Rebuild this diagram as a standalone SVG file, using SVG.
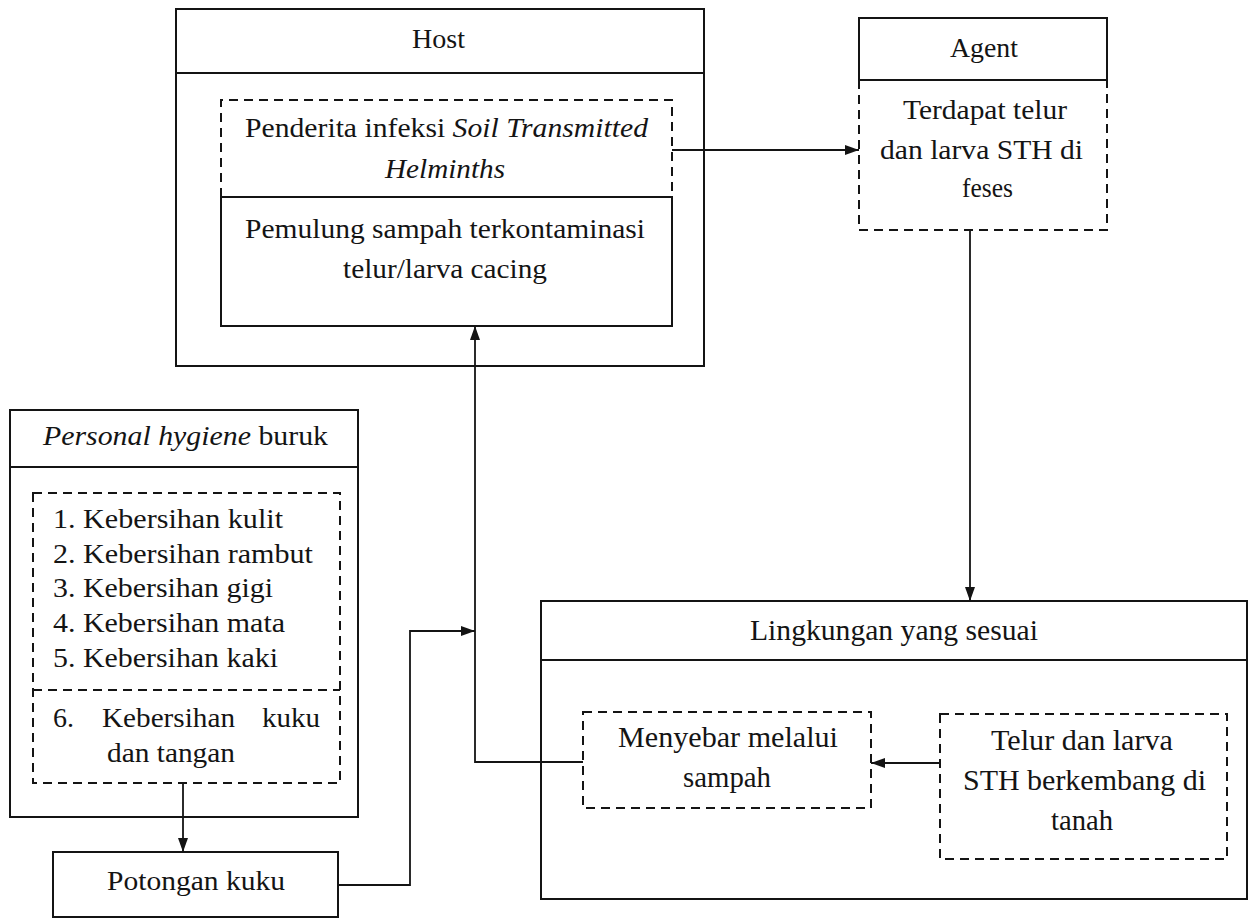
<svg xmlns="http://www.w3.org/2000/svg" width="1252" height="919" viewBox="0 0 1252 919">
<defs>
<style>
.b{fill:none;stroke:#141414;stroke-width:2}
.d{fill:none;stroke:#141414;stroke-width:2;stroke-dasharray:9,6}
.c{fill:none;stroke:#141414;stroke-width:1.8}
.t{fill:#141414}
.l{font-size:30px}
</style>
<marker id="ah" viewBox="0 0 14 10" refX="14" refY="5" markerWidth="14" markerHeight="10" markerUnits="userSpaceOnUse" orient="auto">
<path d="M0,0 L14,5 L0,10 Z" fill="#141414"/>
</marker>
</defs>
<rect width="1252" height="919" fill="#ffffff"/>
<g font-family="Liberation Serif, Times New Roman, serif" font-size="28">

<g id="host">
<rect class="b" x="176" y="9" width="528" height="357"/>
<line class="b" x1="176" y1="73" x2="704" y2="73"/>
<text class="t" x="412" y="48" textLength="53" lengthAdjust="spacingAndGlyphs">Host</text>
<path class="d" d="M221,197 V100 H672 V197"/>
<text class="t" x="245" y="137" textLength="403" lengthAdjust="spacingAndGlyphs">Penderita infeksi <tspan font-style="italic">Soil Transmitted</tspan></text>
<text class="t" x="385" y="178" font-style="italic" textLength="120" lengthAdjust="spacingAndGlyphs">Helminths</text>
<rect class="b" x="221" y="197" width="451" height="129"/>
<text class="t" x="245" y="238" textLength="400" lengthAdjust="spacingAndGlyphs">Pemulung sampah terkontaminasi</text>
<text class="t" x="343" y="278" textLength="204" lengthAdjust="spacingAndGlyphs">telur/larva cacing</text>
</g>

<g id="agent">
<rect class="b" x="859" y="18" width="248" height="62"/>
<text class="t" x="950" y="57" textLength="68" lengthAdjust="spacingAndGlyphs">Agent</text>
<path class="d" d="M859,80 V230 H1107 V80"/>
<text class="t" x="903" y="119" textLength="164" lengthAdjust="spacingAndGlyphs">Terdapat telur</text>
<text class="t" x="880" y="159" textLength="203" lengthAdjust="spacingAndGlyphs">dan larva STH di</text>
<text class="t" x="962" y="197" textLength="51" lengthAdjust="spacingAndGlyphs">feses</text>
</g>

<g id="lingkungan">
<rect class="b" x="541" y="601" width="706" height="298"/>
<line class="b" x1="541" y1="660" x2="1247" y2="660"/>
<text class="t l" x="750" y="640" textLength="288" lengthAdjust="spacingAndGlyphs">Lingkungan yang sesuai</text>
</g>

<g id="menyebar">
<rect class="d" x="583" y="712" width="288" height="96"/>
<text class="t l" x="618" y="747" textLength="220" lengthAdjust="spacingAndGlyphs">Menyebar melalui</text>
<text class="t l" x="683" y="787" textLength="88" lengthAdjust="spacingAndGlyphs">sampah</text>
</g>

<g id="telur">
<rect class="d" x="940" y="714" width="287" height="145"/>
<text class="t l" x="991" y="750" textLength="182" lengthAdjust="spacingAndGlyphs">Telur dan larva</text>
<text class="t l" x="963" y="790" textLength="243" lengthAdjust="spacingAndGlyphs">STH berkembang di</text>
<text class="t l" x="1051" y="830" textLength="62" lengthAdjust="spacingAndGlyphs">tanah</text>
</g>

<g id="personal-hygiene">
<rect class="b" x="10" y="410" width="348" height="407"/>
<line class="b" x1="10" y1="467" x2="358" y2="467"/>
<text class="t" x="43" y="445" textLength="285" lengthAdjust="spacingAndGlyphs"><tspan font-style="italic">Personal hygiene</tspan> buruk</text>
<rect class="d" x="33" y="493" width="307" height="290"/>
<line class="d" x1="33" y1="690" x2="340" y2="690"/>
<text class="t" x="53" y="528" textLength="230" lengthAdjust="spacingAndGlyphs">1. Kebersihan kulit</text>
<text class="t" x="53" y="563" textLength="260" lengthAdjust="spacingAndGlyphs">2. Kebersihan rambut</text>
<text class="t" x="53" y="597" textLength="220" lengthAdjust="spacingAndGlyphs">3. Kebersihan gigi</text>
<text class="t" x="53" y="632" textLength="232" lengthAdjust="spacingAndGlyphs">4. Kebersihan mata</text>
<text class="t" x="53" y="667" textLength="225" lengthAdjust="spacingAndGlyphs">5. Kebersihan kaki</text>
<text class="t" x="53" y="727">6.</text>
<text class="t" x="102" y="727" textLength="133" lengthAdjust="spacingAndGlyphs">Kebersihan</text>
<text class="t" x="262" y="727" textLength="58" lengthAdjust="spacingAndGlyphs">kuku</text>
<text class="t" x="107" y="762" textLength="128" lengthAdjust="spacingAndGlyphs">dan tangan</text>
</g>

<g id="potongan">
<rect class="b" x="53" y="852" width="285" height="65"/>
<text class="t" x="107" y="890" textLength="178" lengthAdjust="spacingAndGlyphs">Potongan kuku</text>
</g>

</g>
<g id="connectors">
<path class="c" d="M672,150 H859" marker-end="url(#ah)"/>
<path class="c" d="M970,230 V601" marker-end="url(#ah)"/>
<path class="c" d="M940,763 H871" marker-end="url(#ah)"/>
<path class="c" d="M583,762 H475 V326" marker-end="url(#ah)"/>
<path class="c" d="M338,885 H410 V631 H475" marker-end="url(#ah)"/>
<path class="c" d="M183,783 V852" marker-end="url(#ah)"/>
</g>
</svg>
